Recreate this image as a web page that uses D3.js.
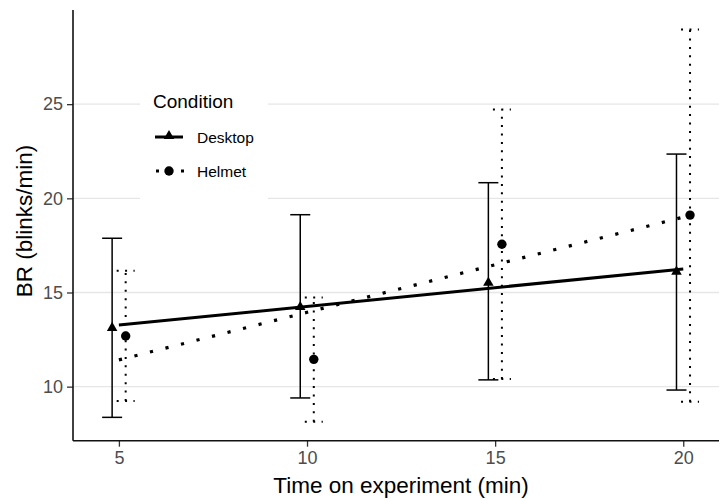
<!DOCTYPE html>
<html>
<head>
<meta charset="utf-8">
<script src="https://cdn.jsdelivr.net/npm/d3@7"></script>
<style>
  html, body { margin: 0; padding: 0; background: #fff; }
  svg { display: block; font-family: "Liberation Sans", Arial, sans-serif; }
</style>
</head>
<body>
<svg id="chart" width="719" height="500"></svg>
<script>
// ---- data ----
const times = [5, 10, 15, 20];
const desktopMean = [13.17, 14.28, 15.57, 16.16];
const desktopLow  = [8.37, 9.40, 10.36, 9.82];
const desktopHigh = [17.88, 19.13, 20.83, 22.35];
const helmetMean  = [12.69, 11.45, 17.56, 19.11];
const helmetLow   = [9.24, 8.14, 10.40, 9.20];
const helmetHigh  = [16.16, 14.74, 24.72, 28.97];
const fitX        = [5, 20];
const desktopFit  = [13.27, 16.25];
const helmetFit   = [11.42, 19.00];
const xTicks = [5, 10, 15, 20];
const yTicks = [10, 15, 20, 25];
const conditions = ["Desktop", "Helmet"];

// ---- setup ----
const svg = d3.select("#chart");
const x = d3.scaleLinear().domain([3.78, 20.95]).range([73, 719]);
const y = d3.scaleLinear().domain([7.13, 30]).range([440.7, 10]);
const dodge = 0.18;

// gridlines
svg.append("g").selectAll("line").data(yTicks).join("line")
  .attr("x1", 73).attr("x2", 719)
  .attr("y1", d => y(d)).attr("y2", d => y(d))
  .attr("stroke", "#e6e6e6").attr("stroke-width", 1.3);

// axes
const yAxis = svg.append("g").attr("transform", "translate(73,0)")
  .call(d3.axisLeft(y).tickValues(yTicks).tickSize(6).tickPadding(4).tickSizeOuter(0));
const xAxis = svg.append("g").attr("transform", "translate(0,440.7)")
  .call(d3.axisBottom(x).tickValues(xTicks).tickSize(6).tickPadding(5).tickSizeOuter(0));
[xAxis, yAxis].forEach(a => {
  a.select(".domain").remove();
  a.selectAll(".tick line").attr("stroke", "#333").attr("stroke-width", 1.3);
  a.selectAll(".tick text").attr("fill", "#4d4d4d").style("font-size", "18px")
    .style("font-family", "Liberation Sans, Arial, sans-serif");
});
svg.append("line").attr("x1", 73).attr("x2", 73).attr("y1", y.range()[1]).attr("y2", y.range()[0])
  .attr("stroke", "#111").attr("stroke-width", 1.6);
svg.append("line").attr("x1", x.range()[0]).attr("x2", x.range()[1]).attr("y1", 440.7).attr("y2", 440.7)
  .attr("stroke", "#111").attr("stroke-width", 1.6);

// axis titles
svg.append("text").attr("x", 401).attr("y", 493).attr("text-anchor", "middle")
  .style("font-size", "22.5px").attr("fill", "#000").text("Time on experiment (min)");
svg.append("text").attr("transform", "translate(32,221) rotate(-90)").attr("text-anchor", "middle")
  .style("font-size", "22.5px").attr("fill", "#000").text("BR (blinks/min)");

// series
const desktop = times.map((t, i) => ({t: t - dodge, m: desktopMean[i], lo: desktopLow[i], hi: desktopHigh[i]}));
const helmet  = times.map((t, i) => ({t: t + dodge, m: helmetMean[i], lo: helmetLow[i], hi: helmetHigh[i]}));

function errorBars(data, dash, capW, sw) {
  const g = svg.append("g").attr("stroke", "#000").attr("stroke-width", sw).attr("fill", "none");
  if (dash) g.attr("stroke-dasharray", dash);
  g.selectAll(".v").data(data).join("line")
    .attr("x1", d => x(d.t)).attr("x2", d => x(d.t))
    .attr("y1", d => y(d.lo)).attr("y2", d => y(d.hi));
  g.selectAll(".top").data(data).join("line")
    .attr("x1", d => x(d.t) - capW / 2).attr("x2", d => x(d.t) + capW / 2)
    .attr("y1", d => y(d.hi)).attr("y2", d => y(d.hi));
  g.selectAll(".bot").data(data).join("line")
    .attr("x1", d => x(d.t) - capW / 2).attr("x2", d => x(d.t) + capW / 2)
    .attr("y1", d => y(d.lo)).attr("y2", d => y(d.lo));
}
errorBars(desktop, null, 20, 1.5);
errorBars(helmet, "2 6.4", 18, 2);

// fit lines
const line = d3.line().x(d => x(d[0])).y(d => y(d[1]));
svg.append("path").datum(fitX.map((t, i) => [t, desktopFit[i]]))
  .attr("d", line).attr("stroke", "#000").attr("stroke-width", 3).attr("fill", "none");
svg.append("path").datum(fitX.map((t, i) => [t, helmetFit[i]]))
  .attr("d", line).attr("stroke", "#000").attr("stroke-width", 3.2).attr("fill", "none")
  .attr("stroke-dasharray", "3.2 12.8");

// points
const tri = d3.symbol(d3.symbolTriangle, 48);
svg.append("g").selectAll("path").data(desktop).join("path")
  .attr("d", tri).attr("transform", d => `translate(${x(d.t)},${y(d.m) + 1})`).attr("fill", "#000");
svg.append("g").selectAll("circle").data(helmet).join("circle")
  .attr("cx", d => x(d.t)).attr("cy", d => y(d.m)).attr("r", 4.7).attr("fill", "#000");

// legend
const lg = svg.append("g");
lg.append("rect").attr("x", 140).attr("y", 82).attr("width", 128).attr("height", 120).attr("fill", "#fff");
lg.append("text").attr("x", 153).attr("y", 108).style("font-size", "19px").attr("fill", "#000").text("Condition");
const keyY = [137, 171];
conditions.forEach((c, i) => {
  const yy = keyY[i];
  const l = lg.append("line").attr("x1", 155).attr("x2", 183).attr("y1", yy).attr("y2", yy)
    .attr("stroke", "#000").attr("stroke-width", 3);
  if (i === 1) l.attr("x1", 156).attr("x2", 184).attr("stroke-dasharray", "3 9.5");
  if (i === 0) {
    lg.append("path").attr("d", tri).attr("transform", `translate(169,${yy - 1})`).attr("fill", "#000");
  } else {
    lg.append("circle").attr("cx", 169).attr("cy", yy).attr("r", 4.7).attr("fill", "#000");
  }
  lg.append("text").attr("x", 197).attr("y", yy + 5.5).style("font-size", "15.5px").attr("fill", "#000").text(c);
});
</script>
</body>
</html>
